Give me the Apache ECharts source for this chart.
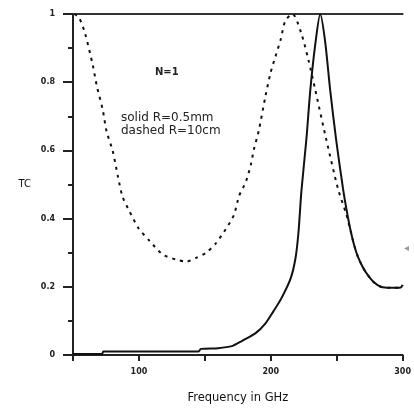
<!DOCTYPE html>
<html>
  <head>
    <meta charset="utf-8" />
    <title>TC vs frequency</title>
    <script src="https://cdn.jsdelivr.net/npm/echarts@6/dist/echarts.min.js"></script>
    <style>
    html, body {margin:0;padding:0;background:#fff;}
    #chart {width:414px;height:409px;}
    </style>
  </head>
<body>
<div id="chart"></div>
<script type="text/javascript">
// solid curve, R=0.5mm
var solidFreq = [50, 72, 73, 100, 145, 147, 160, 170.5, 178, 188.5, 196, 202, 208, 215, 218.7, 221, 223.2, 227, 230, 233.7, 237.5, 241.2, 245, 249.5, 254.8, 257.5, 260.8, 263.5, 266.1, 270, 273.6, 278, 283.4, 291, 298.5, 300];
var solidTc   = [0.003, 0.003, 0.01, 0.01, 0.01, 0.018, 0.02, 0.026, 0.041, 0.064, 0.093, 0.128, 0.166, 0.224, 0.283, 0.36, 0.48, 0.633, 0.778, 0.91, 1.0, 0.92, 0.778, 0.633, 0.487, 0.425, 0.36, 0.318, 0.288, 0.256, 0.234, 0.214, 0.2, 0.197, 0.198, 0.205];
// dashed curve, R=10cm
var dashedFreq = [51, 54.5, 59, 65, 68, 72.5, 75.5, 80, 84, 87.5, 93, 100, 108, 118, 128, 136, 143, 151, 158, 166, 172, 176, 181, 185, 187, 191, 196, 200, 203.5, 207.5, 211, 216.5, 223, 228.5, 233.7, 242, 251, 257.1, 260.8, 263.5, 266.1, 270, 273.6, 278, 283.4, 291, 298.5, 300];
var dashedTc   = [1.0, 0.99, 0.945, 0.85, 0.79, 0.72, 0.655, 0.6, 0.525, 0.465, 0.42, 0.37, 0.335, 0.295, 0.28, 0.274, 0.284, 0.3, 0.326, 0.37, 0.41, 0.467, 0.507, 0.56, 0.6, 0.66, 0.76, 0.83, 0.875, 0.925, 0.98, 1.0, 0.945, 0.866, 0.778, 0.633, 0.487, 0.415, 0.36, 0.318, 0.288, 0.256, 0.234, 0.214, 0.2, 0.197, 0.198, 0.205];
var xTickLabels = ['100', '200', '300'];
var yTickLabels = ['0', '0.2', '0.4', '0.6', '0.8', '1'];

function pairs(xs, ys) {
  var out = [];
  for (var i = 0; i < xs.length; i++) out.push([xs[i], ys[i]]);
  return out;
}

var chart = echarts.init(document.getElementById('chart'));
var tickFont = {fontFamily: 'DejaVu Sans', fontSize: 8, fontWeight: 'bold', color: '#222'};

option = {
  animation: false,
  backgroundColor: '#fff',
  grid: {left: 73, right: 9, top: 14, bottom: 52},
  xAxis: [{
    type: 'value',
    min: 50, max: 300, interval: 50,
    name: 'Frequency in GHz',
    nameLocation: 'middle',
    nameGap: 37,
    nameTextStyle: {fontFamily: 'DejaVu Sans', fontSize: 11.5, color: '#111'},
    axisLine: {lineStyle: {color: '#222', width: 2}},
    axisTick: {inside: false, length: 6, lineStyle: {color: '#222', width: 2}},
    axisLabel: Object.assign({
      margin: 13,
      formatter: function (v) {
        var s = String(v);
        return xTickLabels.indexOf(s) >= 0 ? s : '';
      }
    }, tickFont),
    splitLine: {show: false}
  }, {
    type: 'value', position: 'top',
    min: 50, max: 300,
    axisLine: {show: true, onZero: false, lineStyle: {color: '#333', width: 2}},
    axisTick: {show: false},
    axisLabel: {show: false},
    splitLine: {show: false}
  }],
  yAxis: {
    type: 'value',
    min: 0, max: 1, interval: 0.2,
    name: 'TC',
    nameLocation: 'middle',
    nameRotate: 0,
    nameGap: 42,
    nameTextStyle: {fontFamily: 'DejaVu Sans', fontSize: 10, color: '#111'},
    axisLine: {show: true, lineStyle: {color: '#222', width: 2}},
    axisTick: {inside: false, length: 10, lineStyle: {color: '#222', width: 2}},
    minorTick: {show: true, splitNumber: 2, length: 5, lineStyle: {color: '#222', width: 2}},
    axisLabel: Object.assign({
      margin: 18,
      formatter: function (v) {
        return yTickLabels[Math.round(v * 5)];
      }
    }, tickFont),
    splitLine: {show: false}
  },
  graphic: [
    {type: 'text', left: 155, top: 67, style: {text: 'N=1', font: 'bold 10px "DejaVu Sans"', fill: '#222'}},
    {type: 'text', left: 121, top: 112, style: {text: 'solid R=0.5mm', font: '12px "DejaVu Sans"', fill: '#222'}},
    {type: 'text', left: 121, top: 125, style: {text: 'dashed R=10cm', font: '12px "DejaVu Sans"', fill: '#222'}},
    {type: 'text', left: 404, top: 243, style: {text: '\u25C2', font: '10px "DejaVu Sans"', fill: '#999'}}
  ],
  series: [{
    name: 'solid R=0.5mm',
    type: 'line',
    data: pairs(solidFreq, solidTc),
    showSymbol: false,
    smooth: 0.25,
    lineStyle: {color: '#111', width: 2, type: 'solid'},
    z: 3
  }, {
    name: 'dashed R=10cm',
    type: 'line',
    data: pairs(dashedFreq, dashedTc),
    showSymbol: false,
    smooth: 0.25,
    lineStyle: {color: '#111', width: 2, type: [3, 5]},
    z: 2
  }]
};
chart.setOption(option);
</script>
</body>
</html>
